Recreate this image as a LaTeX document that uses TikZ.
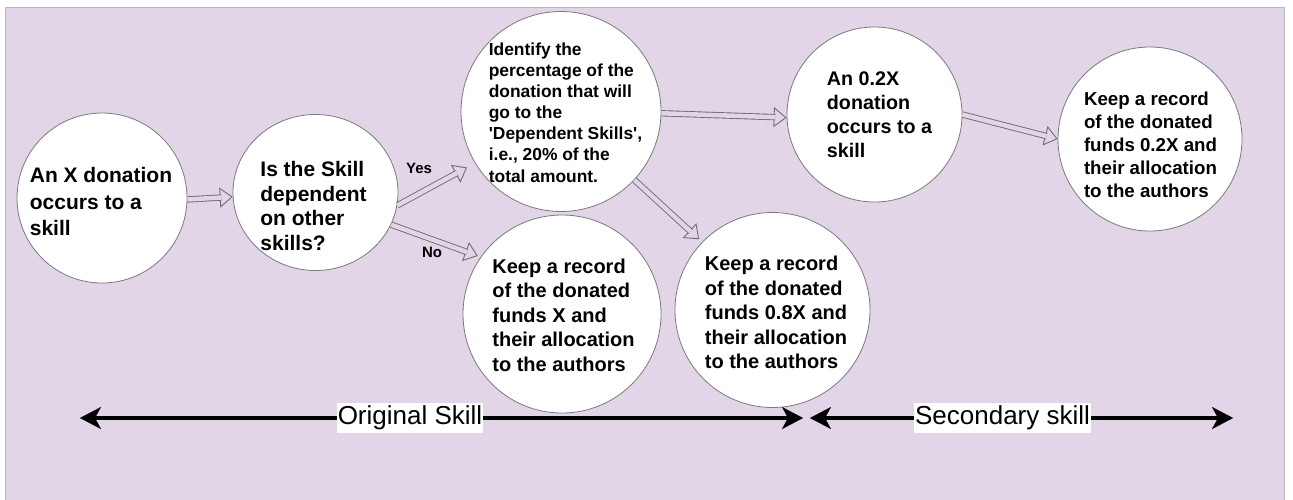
\documentclass[tikz,border=0pt]{standalone}
\usepackage{fontspec}
\setmainfont{Liberation Sans}
\usetikzlibrary{arrows.meta,shapes.geometric}

\definecolor{panel}{HTML}{E1D5E7}
\definecolor{linkgray}{HTML}{6E6E6E}
\definecolor{rimgray}{HTML}{7A7A7A}

\tikzset{
  bubble/.style={circle, draw=rimgray, line width=0.8pt, fill=white, inner sep=0pt},
  bubbletext/.style={align=left, inner sep=0pt},
  flow/.style={draw=linkgray, line width=0.9pt, double=panel, double distance=4.5pt},
  flowtip/.style={draw=panel, line width=0.4pt,
    -{Triangle[length=13pt, width=20pt, fill=panel, color=linkgray, line width=0.9pt]}},
  choice/.style={font=\bfseries\fontsize{15}{18}\selectfont, inner sep=0pt},
  span/.style={line width=4.5pt,
    {Stealth[length=21pt, width=22pt, inset=6pt, line width=0.1pt]}-{Stealth[length=21pt, width=22pt, inset=6pt, line width=0.1pt]}},
  spanlabel/.style={fill=white, inner xsep=1pt, inner ysep=0pt, minimum height=30pt,
    font=\fontsize{26}{30}\selectfont}
}

% hollow double-line connector: open head first, shaft laid over it
\newcommand\flowlink[3][0pt]{%
  \draw[flowtip, shorten >=#1] (#2) -- (#3);
  \draw[flow, shorten >=11.5pt+#1] (#2) -- (#3);}

\begin{document}
\begin{tikzpicture}[x=1pt, y=-1pt]
  \useasboundingbox (0,0) rectangle (1293,499);
  \fill[white] (0,0) rectangle (1293,499);
  \filldraw[fill=panel, draw=gray!55, line width=0.5pt] (5,7) rectangle (1284,502);

  % steps
  \node[bubble, minimum size=170pt] (c1) at (102,198) {};
  \node[bubble, ellipse, minimum width=165pt, minimum height=156pt] (c2) at (315.5,192.5) {};
  \node[bubble, minimum size=200pt] (c3) at (561,111.5) {};
  \node[bubble, minimum size=198pt] (c4) at (562,314) {};
  \node[bubble, minimum size=195pt] (c5) at (772.5,310) {};
  \node[bubble, minimum size=175pt] (c6) at (874.5,114.5) {};
  \node[bubble, minimum size=184pt] (c7) at (1150,139) {};

  % step texts
  \node[bubbletext, font=\bfseries\fontsize{21}{26.7}\selectfont] (t1) at (101,201.5)
    {An X donation\\occurs to a\\skill};
  \node[bubbletext, font=\bfseries\fontsize{21}{24.5}\selectfont] (t2) at (313.5,206)
    {Is the Skill\\dependent\\on other\\skills?};
  \node[bubbletext, font=\bfseries\fontsize{17.4}{21.1}\selectfont] (t3) at (565.5,112.5)
    {Identify the\\percentage of the\\donation that will\\go to the\\\textquotesingle Dependent Skills\textquotesingle,\\i.e., 20\% of the\\total amount.};
  \node[bubbletext, font=\bfseries\fontsize{20}{24.5}\selectfont] (t4) at (563.5,315)
    {Keep a record\\of the donated\\funds X and\\their allocation\\to the authors};
  \node[bubbletext, font=\bfseries\fontsize{20}{24.5}\selectfont] (t5) at (776,312.5)
    {Keep a record\\of the donated\\funds 0.8X and\\their allocation\\to the authors};
  \node[bubbletext, font=\bfseries\fontsize{19.7}{23.9}\selectfont] (t6) at (879.5,115)
    {An 0.2X\\donation\\occurs to a\\skill};
  \node[bubbletext, font=\bfseries\fontsize{18.7}{22.9}\selectfont] (t7) at (1150.5,145)
    {Keep a record\\of the donated\\funds 0.2X and\\their allocation\\to the authors};

  % connectors
  \flowlink{c1.-1}{c2.183}
  \flowlink[9pt]{c2.-9}{c3.211}
  \flowlink[3pt]{c2.-23}{c4.145}
  \flowlink{c3.-1}{c6.182}
  \flowlink[4pt]{c3.-43}{c5.136}
  \flowlink{c6.0}{c7.180}

  \node[choice] (yes) at (419,168) {Yes};
  \node[choice] (no) at (432,252.5) {No};

  % skill ranges
  \coordinate (oL) at (80,418);
  \coordinate (oR) at (803,418);
  \coordinate (sL) at (810,418);
  \coordinate (sR) at (1233,418);
  \draw[span] (oL) -- (oR);
  \draw[span] (sL) -- (sR);
  \node[spanlabel] (olab) at (410,418) {Original Skill};
  \node[spanlabel] (slab) at (1002.5,418) {Secondary skill};
\end{tikzpicture}
\end{document}
